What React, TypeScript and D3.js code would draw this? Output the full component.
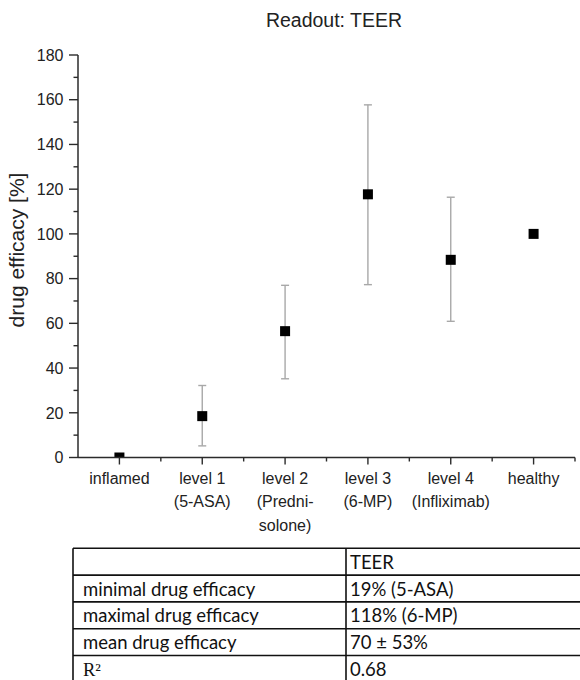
import React, { useEffect, useRef } from "react";
import * as d3 from "d3";

// categories on the x axis (multi-line labels)
const categories = ["inflamed", "level1", "level2", "level3", "level4", "healthy"];
const categoryLabels = [
  ["inflamed"],
  ["level 1", "(5-ASA)"],
  ["level 2", "(Predni-", "solone)"],
  ["level 3", "(6-MP)"],
  ["level 4", "(Infliximab)"],
  ["healthy"],
];

// drug efficacy [%] means and error bar ends
const efficacy = [0, 18.5, 56.5, 117.7, 88.4, 100];
const errLow = [null, 5.2, 35.2, 77.3, 60.9, null];
const errHigh = [null, 32.2, 77, 157.7, 116.4, null];

const yTicks = [0, 20, 40, 60, 80, 100, 120, 140, 160, 180];

// summary table
const tableHeader = ["", "TEER"];
const tableLabels = ["minimal drug efficacy", "maximal drug efficacy", "mean drug efficacy", "R²"];
const tableValues = ["19% (5-ASA)", "118% (6-MP)", "70 ± 53%", "0.68"];

const W = 580;
const H = 680;
const plot = { left: 78, right: 575, top: 55, bottom: 457.5 };

const App = () => {
  const svgRef = useRef(null);

  useEffect(() => {
    const svg = d3.select(svgRef.current);
    svg.selectAll("*").remove();

    const axisColor = "#2b2b2b";
    const font = "'Liberation Sans', Arial, sans-serif";

    const x = d3
      .scaleBand()
      .domain(categories)
      .range([plot.left, plot.right])
      .padding(0);
    const cx = (c) => x(c) + x.bandwidth() / 2;

    const y = d3.scaleLinear().domain([0, 180]).range([plot.bottom, plot.top]);

    // title
    svg
      .append("text")
      .attr("x", 334)
      .attr("y", 27)
      .attr("text-anchor", "middle")
      .attr("font-family", font)
      .attr("font-size", 19.5)
      .attr("fill", "#222")
      .text("Readout: TEER");

    // y axis label
    svg
      .append("text")
      .attr("transform", `translate(24, 250) rotate(-90)`)
      .attr("text-anchor", "middle")
      .attr("font-family", font)
      .attr("font-size", 21)
      .attr("fill", "#222")
      .text("drug efficacy [%]");

    // clip for markers
    svg
      .append("clipPath")
      .attr("id", "plotClip")
      .append("rect")
      .attr("x", plot.left)
      .attr("y", plot.top - 10)
      .attr("width", plot.right - plot.left + 10)
      .attr("height", plot.bottom - plot.top + 10);

    // error bars
    const eb = svg.append("g").attr("stroke", "#a8a8a8").attr("stroke-width", 1.4);
    categories.forEach((c, i) => {
      if (errLow[i] == null) return;
      eb.append("line")
        .attr("x1", cx(c))
        .attr("x2", cx(c))
        .attr("y1", y(errLow[i]))
        .attr("y2", y(errHigh[i]));
      [errLow[i], errHigh[i]].forEach((v) => {
        eb.append("line")
          .attr("x1", cx(c) - 4)
          .attr("x2", cx(c) + 4)
          .attr("y1", y(v))
          .attr("y2", y(v));
      });
    });

    // markers
    const size = 10;
    svg
      .append("g")
      .attr("clip-path", "url(#plotClip)")
      .selectAll("rect")
      .data(categories)
      .join("rect")
      .attr("x", (c) => cx(c) - size / 2)
      .attr("y", (c, i) => y(efficacy[i]) - size / 2)
      .attr("width", size)
      .attr("height", size)
      .attr("fill", "#000");

    // y axis
    const yAxisG = svg.append("g");
    yAxisG
      .append("line")
      .attr("x1", plot.left)
      .attr("x2", plot.left)
      .attr("y1", plot.top)
      .attr("y2", plot.bottom)
      .attr("stroke", axisColor)
      .attr("stroke-width", 1.5);
    d3.range(0, 181, 10).forEach((v) => {
      const major = v % 20 === 0;
      yAxisG
        .append("line")
        .attr("x1", plot.left - (major ? 9 : 4.5))
        .attr("x2", plot.left)
        .attr("y1", y(v))
        .attr("y2", y(v))
        .attr("stroke", axisColor)
        .attr("stroke-width", 1.4);
    });
    yAxisG
      .selectAll("text")
      .data(yTicks)
      .join("text")
      .attr("x", 63.5)
      .attr("y", (d) => y(d))
      .attr("dy", "0.36em")
      .attr("text-anchor", "end")
      .attr("font-family", font)
      .attr("font-size", 16)
      .attr("fill", "#222")
      .text((d) => d);

    // x axis
    const xAxisG = svg.append("g");
    xAxisG
      .append("line")
      .attr("x1", plot.left)
      .attr("x2", plot.right)
      .attr("y1", plot.bottom)
      .attr("y2", plot.bottom)
      .attr("stroke", axisColor)
      .attr("stroke-width", 1.5);
    categories.forEach((c) => {
      xAxisG
        .append("line")
        .attr("x1", cx(c))
        .attr("x2", cx(c))
        .attr("y1", plot.bottom)
        .attr("y2", plot.bottom + 7)
        .attr("stroke", axisColor)
        .attr("stroke-width", 1.4);
    });
    categories.concat([null]).forEach((c, i) => {
      const px = i < categories.length ? x(c) : plot.right;
      if (i === 0) return;
      xAxisG
        .append("line")
        .attr("x1", px)
        .attr("x2", px)
        .attr("y1", plot.bottom)
        .attr("y2", plot.bottom + 4)
        .attr("stroke", axisColor)
        .attr("stroke-width", 1.4);
    });
    categories.forEach((c, i) => {
      const t = xAxisG
        .append("text")
        .attr("x", cx(c))
        .attr("y", 484)
        .attr("text-anchor", "middle")
        .attr("font-family", font)
        .attr("font-size", 16)
        .attr("fill", "#222");
      categoryLabels[i].forEach((line, j) => {
        t.append("tspan")
          .attr("x", cx(c))
          .attr("dy", j === 0 ? 0 : 23.3)
          .text(line);
      });
    });

    // table
    const tLeft = 73;
    const tMid = 346;
    const tRight = 600;
    const tTop = 548.3;
    const rowH = 26.8;
    const rows = [tableHeader].concat(tableLabels.map((l, i) => [l, tableValues[i]]));
    const tg = svg.append("g");
    d3.range(rows.length + 1).forEach((r) => {
      tg.append("line")
        .attr("x1", tLeft)
        .attr("x2", tRight)
        .attr("y1", tTop + r * rowH)
        .attr("y2", tTop + r * rowH)
        .attr("stroke", "#111")
        .attr("stroke-width", 1.6);
    });
    [tLeft, tMid].forEach((vx) => {
      tg.append("line")
        .attr("x1", vx)
        .attr("x2", vx)
        .attr("y1", tTop)
        .attr("y2", tTop + rows.length * rowH)
        .attr("stroke", "#111")
        .attr("stroke-width", 1.6);
    });
    rows.forEach((row, r) => {
      const by = tTop + r * rowH + 20.5;
      tg.append("text")
        .attr("x", 83)
        .attr("y", by)
        .attr("font-family", row[0] === "R²" ? "'Liberation Serif', serif" : "Lato, sans-serif")
        .attr("font-size", 18.5)
        .attr("fill", "#111")
        .text(row[0]);
      tg.append("text")
        .attr("x", 350)
        .attr("y", by)
        .attr("font-family", "Lato, sans-serif")
        .attr("font-size", 18.5)
        .attr("fill", "#111")
        .text(row[1]);
    });
  }, []);

  return (
    <svg
      ref={svgRef}
      width={W}
      height={H}
      style={{ position: "absolute", left: 0, top: 0, background: "#fff" }}
    />
  );
};

export default App;
